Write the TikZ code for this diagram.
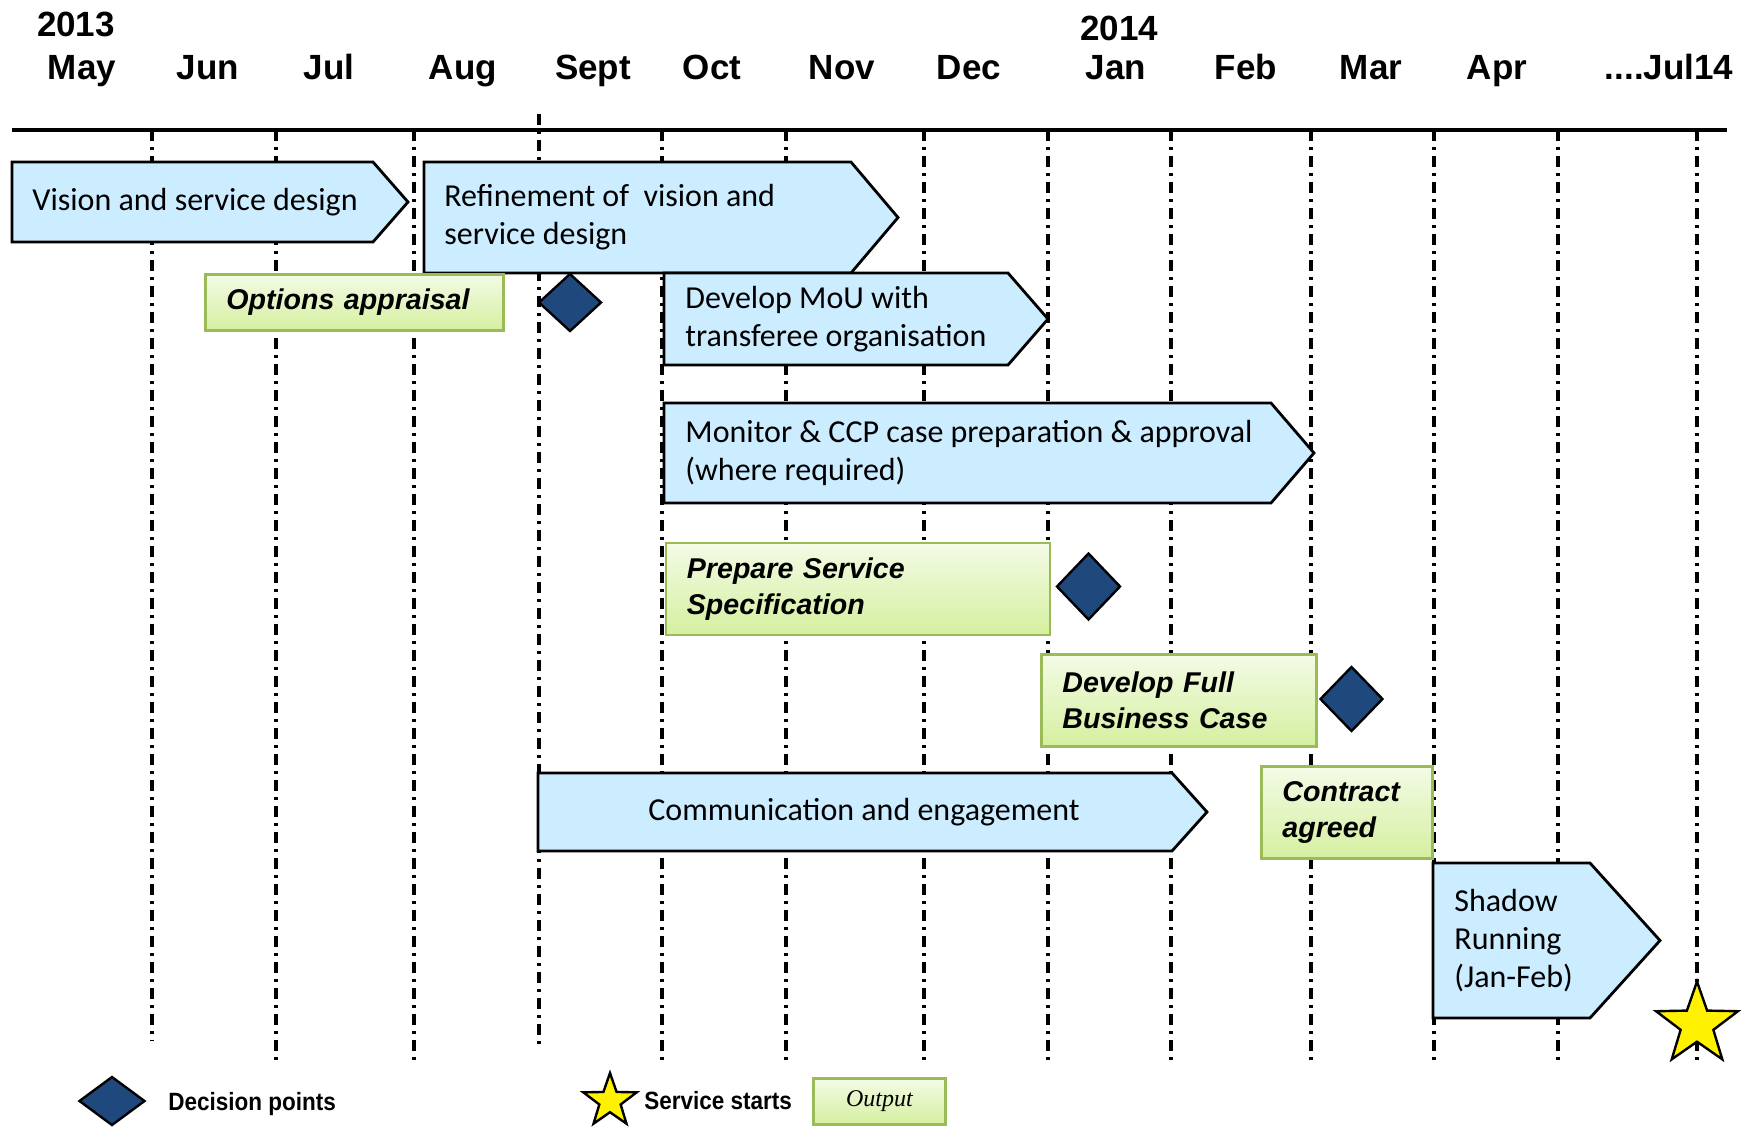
\documentclass[tikz,border=0pt]{standalone}
\usepackage{fontspec}
\setmainfont{Carlito}
\newfontfamily\arialfont{Liberation Sans}
\newfontfamily\legendfont[FakeStretch=0.9]{Liberation Sans}
\newfontfamily\outputfont{Liberation Serif}
\usetikzlibrary{shapes.geometric}

\definecolor{barblue}{HTML}{CCECFF}
\definecolor{outgreen}{HTML}{9BBB59}
\definecolor{outtop}{HTML}{F3FBE6}
\definecolor{outbottom}{HTML}{D5EF9F}
\definecolor{decblue}{HTML}{1F497D}

\begin{document}
\begin{tikzpicture} [
  x=0.5pt, y=-0.5pt,
  month/.style={font=\arialfont\bfseries\fontsize{17.5}{20}\selectfont, anchor=base, inner sep=0},
  grid/.style={line width=1.6pt, dash pattern=on 5.5pt off 3pt on 1.5pt off 3pt},
  bar/.style={fill=barblue, draw=black, line width=1.4pt},
  bartext/.style={font=\fontsize{16}{19}\selectfont, align=left, anchor=west, inner sep=0},
  output/.style={
    draw=outgreen, line width=1.4pt, top color=outtop, bottom color=outbottom,
    anchor=north west, inner xsep=10.5pt, inner ysep=0, align=left,
    font=\arialfont\bfseries\itshape\fontsize{14.3}{18}\selectfont},
  decision/.style={diamond, fill=decblue, draw=black, line width=1.2pt, inner sep=0},
  golive/.style={star, star points=5, star point ratio=2.5, fill=yellow, draw=black, line width=1.2pt, inner sep=0},
  legend/.style={font=\legendfont\bfseries\fontsize{12.5}{14}\selectfont, anchor=base west, inner sep=0}
  ]
  \useasboundingbox (0,0) rectangle (1741,1126);

  % months
  \node[month] (y2013) at (76,36) {2013};
  \node[month] (y2014) at (1119,40) {2014};
  \foreach \x/\m [count=\i] in {82/May, 208/Jun, 329/Jul, 463/Aug, 593/Sept, 712/Oct, 842/Nov,
      969/Dec, 1116/Jan, 1246/Feb, 1371/Mar, 1497/Apr}
    \node[month] (month\i) at (\x,79) {\m};
  \node[month] (month13) at (1669,79) {....Jul14};

  % grid
  \draw[grid] (152,130) -- (152,1041);
  \draw[grid] (539,114) -- (539,1048);
  \foreach \x in {276, 414, 662, 786, 924, 1048, 1171, 1311, 1434, 1558, 1697}
    \draw[grid] (\x,130) -- (\x,1062);
  \draw[line width=2pt] (12,130) -- (1727,130);

  % phases
  \filldraw[bar] (12,162) -- (373,162) -- (408,202) -- (373,242) -- (12,242) -- cycle;
  \node[bartext] (vision) at (32,202) {Vision and service design};
  \filldraw[bar] (424,162) -- (851,162) -- (898,217.5) -- (851,273) -- (424,273) -- cycle;
  \node[bartext] (refine) at (444,217.5) {Refinement of~ vision and\\service design};
  \node[output, text width=128pt, minimum height=28pt] (options) at (204,273) {Options appraisal};
  \node[decision, minimum width=31.5pt, minimum height=29pt] (dec1) at (570,302.5) {};
  \filldraw[bar] (664,273) -- (1008,273) -- (1048,319) -- (1008,365) -- (664,365) -- cycle;
  \node[bartext] (mou) at (685,319) {Develop MoU with\\transferee organisation};
  \filldraw[bar] (664,403) -- (1271,403) -- (1314,453) -- (1271,503) -- (664,503) -- cycle;
  \node[bartext] (monitor) at (685,453) {Monitor \& CCP case preparation \& approval\\(where required)};
  \node[output, text width=171pt, minimum height=46pt] (spec) at (664.5,541.5) {Prepare Service\\Specification};
  \node[decision, minimum width=32pt, minimum height=33.5pt] (dec2) at (1088.5,586.5) {};
  \node[output, text width=116.5pt, minimum height=46pt] (fbc) at (1040,653) {Develop Full\\Business Case};
  \node[decision, minimum width=31.5pt, minimum height=32.5pt] (dec3) at (1351.5,699) {};
  \filldraw[bar] (538,773) -- (1172,773) -- (1207,812) -- (1172,851) -- (538,851) -- cycle;
  \node[bartext, anchor=center] (comms) at (864,812) {Communication and engagement};
  \node[output, text width=64.5pt, minimum height=46pt] (contract) at (1260,765) {Contract\\agreed};
  \filldraw[bar] (1433,863) -- (1590,863) -- (1660,940.5) -- (1590,1018) -- (1433,1018) -- cycle;
  \node[bartext] (shadow) at (1454,940.5) {Shadow\\Running\\(Jan-Feb)};
  \node[golive, minimum size=43pt] (start) at (1697,1024.5) {};

  % legend
  \node[decision, minimum width=33pt, minimum height=24.5pt] (keydec) at (112,1101) {};
  \node[legend] (keydectext) at (168,1110) {Decision points};
  \node[golive, minimum size=28pt] (keystar) at (610,1101) {};
  \node[legend] (keystartext) at (644,1109.5) {Service starts};
  \node[output, text width=45pt, minimum height=23pt, align=center,
    font=\outputfont\itshape\fontsize{12}{13}\selectfont] (keyout) at (812,1077) {Output};
\end{tikzpicture}
\end{document}
